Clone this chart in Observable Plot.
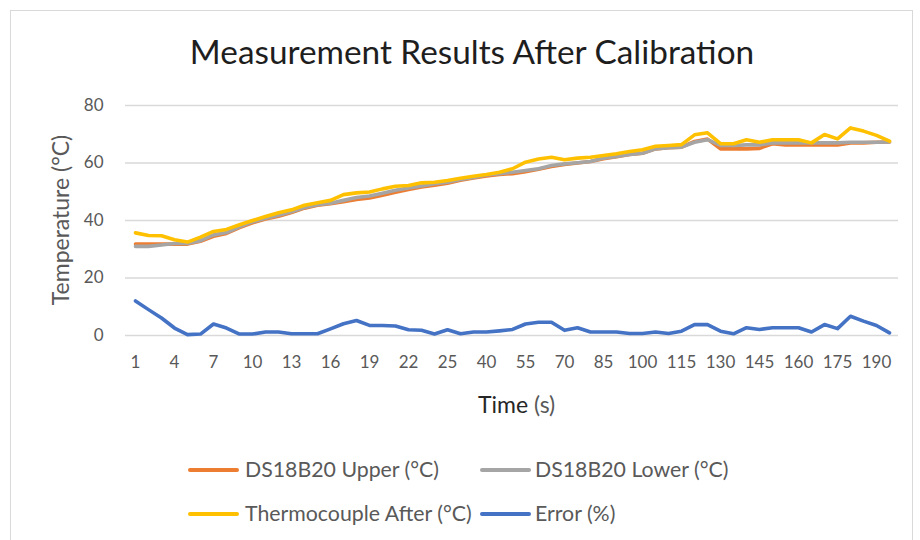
<!DOCTYPE html>
<html>
<head>
<meta charset="utf-8">
<script src="https://cdn.jsdelivr.net/npm/d3@7"></script>
<script src="https://cdn.jsdelivr.net/npm/@observablehq/plot@0.6"></script>
<style>
  body { margin: 0; background: #fff; }
  #wrap { position: relative; width: 920px; height: 540px; overflow: hidden; background: #fff; font-family: Lato, "Open Sans", sans-serif; }
  .abs { position: absolute; white-space: nowrap; line-height: 1; }
  .sw { position: absolute; height: 4px; border-radius: 2px; }
  .lg { position: absolute; white-space: nowrap; line-height: 1; color: #595959; transform: translateY(-50%); }
</style>
</head>
<body>
<div id="wrap">
  <div style="position:absolute;left:10px;top:10px;width:901px;height:620px;border:1px solid #d9d9d9;"></div>
  <div id="chart" style="position:absolute;left:0;top:0;"></div>
  <div id="title" class="abs" style="left:472px;top:52px;transform:translate(-50%,-50%);color:#1e1e1e;">Measurement Results After Calibration</div>
  <div id="ytitle" class="abs" style="left:60px;top:220px;transform:translate(-50%,-50%) rotate(-90deg);color:#595959;">Temperature (°C)</div>
  <div id="xtitle" class="abs" style="left:478px;top:404px;transform:translateY(-50%);"><span style="color:#262626">Time</span> <span style="color:#595959">(s)</span></div>
  <div id="legend"></div>
</div>
<script>
// ---- data ----
const categories = ["1","2","3","4","5","6","7","8","9","10","11","12","13","14","15","16","17","18","19","20","21","22","23","24","25",
  "30","35","40","45","50","55","60","65","70","75","80","85","90","95","100","105","110","115","120","125","130","135","140","145","150","155","160","165","170","175","180","185","190","195"];
const tickLabels = ["1","4","7","10","13","16","19","22","25","40","55","70","85","100","115","130","145","160","175","190"];
const yTicks = [0, 20, 40, 60, 80];
const seriesNames = ["DS18B20 Upper (°C)", "DS18B20 Lower (°C)", "Thermocouple After (°C)", "Error (%)"];
const seriesColors = ["#ED7D31", "#A5A5A5", "#FFC000", "#4472C4"];

const upper = [31.8,31.8,31.8,31.8,31.8,32.8,34.5,35.5,37.5,39.2,40.5,41.5,42.8,44.3,45.3,
  45.8,46.5,47.3,47.8,48.8,49.8,50.8,51.7,52.3,53,54,54.8,55.5,56,56.3,
  57,57.8,58.8,59.5,60,60.5,61.5,62.2,63,63.4,64.9,65.3,65.5,67.5,68.3,
  64.9,64.9,64.9,65.1,66.7,66.3,66.3,66.3,66.3,66.3,67,67,67.2,67.3];
const lower = [31,31,31.5,32,32,33,35,35.8,37.8,39.5,40.8,41.8,43,44.5,45.5,
  46,47,48,48.5,49.5,50.5,51.3,52,52.8,53.3,54.3,55,55.8,56.3,56.8,
  57.4,58,59.1,59.7,60.1,60.5,61.7,62.3,63,63.4,64.9,65.3,65.5,67.2,68.1,
  66.1,66.1,66.3,66.3,67,67,67,67,67,67,67.2,67.2,67.2,67.3];
const thermocouple = [35.7,34.8,34.7,33.3,32.5,34.2,36.2,36.9,38.5,40,41.4,42.7,43.7,45.3,46.2,
  47,49,49.6,49.9,51,51.9,52.2,53.1,53.3,53.9,54.7,55.4,56,56.8,58,
  60.3,61.4,62,61.1,61.7,62,62.6,63.2,64,64.6,65.8,66.1,66.4,69.8,70.5,
  66.7,66.7,68.1,67.2,68.1,68.1,68.1,67,69.9,68.4,72.2,71.1,69.6,67.6];
const errorPct = [12,9,6.1,2.6,0.3,0.5,4,2.6,0.5,0.5,1.2,1.2,0.6,0.6,0.6,2.3,4.1,5.2,3.5,3.5,
  3.3,2,1.8,0.5,2,0.6,1.2,1.2,1.6,
  2.1,4,4.6,4.6,1.8,2.7,1.2,1.2,1.2,0.7,0.7,1.2,0.7,1.5,3.8,3.8,1.5,0.6,2.7,2.1,
  2.7,2.7,2.7,1.2,3.8,2.4,6.7,5,3.5,0.9];

// ---- build table ----
const allSeries = [upper, lower, thermocouple, errorPct];
const rows = [];
allSeries.forEach((vals, s) => vals.forEach((v, i) => rows.push({t: categories[i], v, s: seriesNames[s]})));

const chart = Plot.plot({
  width: 920, height: 540,
  marginLeft: 125, marginRight: 22, marginTop: 105, marginBottom: 205,
  style: {fontFamily: "Lato, 'Open Sans', sans-serif", color: "#595959", background: "transparent", overflow: "visible"},
  x: {type: "point", domain: categories, padding: 0, inset: 7, label: null},
  y: {domain: [0, 80], label: null},
  color: {domain: seriesNames, range: seriesColors},
  marks: [
    Plot.ruleY(yTicks, {stroke: "#d9d9d9", strokeWidth: 1.3}),
    Plot.axisY({ticks: yTicks, tickSize: 0, tickPadding: 22, fontSize: 17, label: null}),
    Plot.axisX({ticks: tickLabels, tickSize: 0, tickPadding: 20, fontSize: 17, label: null}),
    Plot.line(rows, {x: "t", y: "v", z: "s", stroke: "s", strokeWidth: 3.6, strokeLinejoin: "round", strokeLinecap: "round"})
  ]
});
document.getElementById("chart").appendChild(chart);

// ---- legend ----
const legend = document.getElementById("legend");
const legendPos = [
  {sx: 188, tx: 245, y: 470}, {sx: 480, tx: 535, y: 470},
  {sx: 188, tx: 245, y: 514}, {sx: 480, tx: 535, y: 514}
];
seriesNames.forEach((name, i) => {
  const p = legendPos[i];
  const sw = document.createElement("div");
  sw.className = "sw";
  sw.style.cssText = `left:${p.sx}px;top:${p.y - 2}px;width:51px;background:${seriesColors[i]};`;
  legend.appendChild(sw);
  const tx = document.createElement("div");
  tx.className = "lg";
  tx.textContent = name;
  tx.style.left = p.tx + "px";
  tx.style.top = p.y + "px";
  legend.appendChild(tx);
});

// ---- fit text sizes to the widths measured on the reference ----
function fit(el, target) {
  el.style.fontSize = "20px";
  const w = el.offsetWidth;
  el.style.fontSize = (20 * target / w) + "px";
}
fit(document.getElementById("title"), 565);
fit(document.getElementById("ytitle"), 170);
fit(document.getElementById("xtitle"), 77);
const lgs = legend.querySelectorAll(".lg");
fit(lgs[2], 227);
lgs.forEach(el => el.style.fontSize = lgs[2].style.fontSize);
</script>
</body>
</html>
